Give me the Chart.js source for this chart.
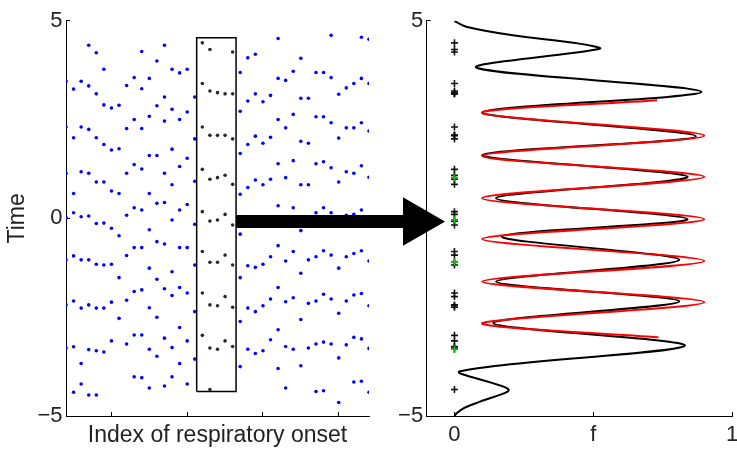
<!DOCTYPE html>
<html>
<head>
<meta charset="utf-8">
<script src="https://cdn.jsdelivr.net/npm/chart.js@4.4.1/dist/chart.umd.min.js"></script>
<style>
  html, body { margin: 0; padding: 0; background: #fff; }
  #wrap { position: relative; width: 737px; height: 449px; }
  #wrap canvas { position: absolute; left: 0; top: 0; }
</style>
</head>
<body>
<div id="wrap">
  <canvas id="onset-chart" width="737" height="449"></canvas>
  <canvas id="density-chart" width="737" height="449"></canvas>
</div>
<script>
// onset times for each respiratory index
// indexes 0..17 (before the window)
const onsetsBefore = [
  [3.47, 2.31, 1.14, 0.02, -1.05, -2.19, -3.28],
  [3.27, 2.04, 0.63, 0.14, -0.95, -2.09, -3.25, -4.40],
  [3.47, 2.31, 1.18, 0.04, -1.05, -2.27, -3.67, -4.19],
  [4.38, 3.35, 2.25, 1.14, 0.06, -1.05, -2.19, -3.32, -4.47],
  [4.19, 3.15, 2.04, 0.92, -0.13, -1.16, -2.27, -3.35, -4.47],
  [3.77, 2.87, 1.87, 0.92, -0.12, -1.18, -2.27, -3.38],
  [2.79, 1.73, 0.69, -0.25, -1.16, -2.12, -3.10],
  [2.86, 1.76, 0.63, -0.44, -1.50, -2.53],
  [3.36, 2.27, 1.14, 0.08, -0.94, -2.07, -3.18],
  [3.56, 2.50, 1.36, 0.27, -0.74, -1.85, -2.95, -4.01],
  [4.22, 3.28, 2.27, 1.25, 0.21, -0.74, -1.81, -2.95, -4.03],
  [3.54, 2.58, 1.59, 0.63, -0.29, -1.26, -2.26, -3.31, -4.29],
  [3.98, 2.85, 1.59, 0.38, -0.59, -1.54, -2.50, -3.49],
  [4.38, 3.07, 2.46, 1.14, 0.40, -0.65, -1.78, -3.03, -4.24],
  [3.77, 2.76, 1.75, 0.85, -0.04, -1.35, -1.95, -3.27, -4.01],
  [3.68, 2.50, 1.31, 0.21, -0.74, -1.75, -2.76, -3.67],
  [3.77, 2.69, 1.52, 0.35, -0.74, -1.89, -3.10, -4.19],
  [3.07, 2.01, 0.94, -0.15, -1.18, -2.36, -3.56]
];
// indexes 18..22 (inside the window)
const onsetsWindow = [
  [4.44, 3.41, 2.31, 1.24, 0.17, -0.84, -1.89, -2.96],
  [4.27, 3.22, 2.10, 0.99, -0.07, -1.11, -2.19, -3.28, -4.33],
  [3.18, 2.10, 1.03, -0.04, -1.11, -2.21, -3.31],
  [3.15, 2.10, 1.09, 0.10, -0.93, -1.98, -3.10],
  [4.21, 3.15, 2.01, 0.86, -0.17, -1.18, -2.25, -3.24]
];
// indexes 23..40 (after the window)
const onsetsAfter = [
  [3.69, 2.71, 1.64, 0.61, -0.40, -1.50, -2.61, -3.75],
  [4.06, 2.97, 1.87, 0.78, -1.20, -2.27, -3.31],
  [4.15, 3.15, 2.08, 0.97, -1.24, -2.36, -3.42],
  [2.95, 1.90, 0.85, -1.16, -2.21, -3.35],
  [3.11, 2.05, 0.99, -0.97, -2.04, -3.07],
  [4.55, 3.54, 2.50, 1.38, 0.32, -0.69, -1.75, -2.82, -3.80],
  [3.49, 2.29, 1.03, -1.08, -2.11, -3.24, -4.29],
  [3.72, 2.63, 1.46, 0.27, -0.84, -2.01, -3.31],
  [4.05, 3.04, 1.95, 0.85, -0.31, -1.39, -2.56, -3.73],
  [3.04, 1.90, 0.85, -1.05, -2.15, -3.28],
  [3.69, 2.57, 1.38, 0.14, -0.97, -2.09, -3.18, -4.38],
  [3.69, 2.57, 1.43, 0.27, -0.82, -1.92, -3.13, -4.36],
  [4.63, 3.56, 2.42, 1.28, 0.14, -0.93, -2.04, -3.18],
  [3.14, 2.03, 0.92, -1.26, -2.40, -3.53, -4.66],
  [3.30, 2.29, 1.18, 0.08, -0.97, -2.09, -3.20],
  [3.41, 2.29, 1.14, 0.10, -0.89, -1.94, -3.01, -4.14],
  [4.58, 3.54, 2.42, 1.33, 0.21, -0.82, -1.90, -3.05, -4.12],
  [4.53, 3.41, 2.21, 1.04, -1.08, -2.21, -3.29, -4.40]
];
const windowFirstIndex = 18;
const windowEdgesIndex = [17.25, 22.45];
const windowEdgesTime = [-4.38, 4.57];
const highlightedTimes = [1.03, -0.04, -1.11, -3.31];

// arrow: shaft in index units (left panel), head in f units (right panel)
const arrowShaftIndex = [22.45, 44.6];
const arrowHeadF = -0.135;
const arrowTime = -0.08;

const indexTicks = [6, 16, 26, 36];
const timeTicks = [-5, 0, 5];

// density of onset times (black) and fitted periodic curve (red)
const densityF = [0, 0.046, 0.21, 0.45, 0.523, 0.08, 0.89, 0.10, 0.87, 0.10, 0.84, 0.15, 0.84, 0.17,
  0.81, 0.15, 0.81, 0.14, 0.83, 0.02, 0.195, 0.094, 0.034, 0.01, 0];
const densityT = [4.99, 4.84, 4.63, 4.42, 4.29, 3.81, 3.20, 2.68, 2.08, 1.60, 1.05, 0.51, -0.02, -0.46,
  -1.05, -1.60, -2.10, -2.65, -3.22, -3.87, -4.33, -4.63, -4.80, -4.92, -5.0];
const fitF = [0.73, 0.10, 0.90, 0.10, 0.90, 0.10, 0.90, 0.10, 0.90, 0.10, 0.90, 0.10, 0.735];
const fitT = [2.99, 2.66, 2.09, 1.58, 1.05, 0.51, -0.02, -0.52, -1.08, -1.60, -2.12, -2.65, -3.01];
const fTicks = [0, 0.5, 1];
const fTickLabels = ['0', 'f', '1'];
const densityTimeTicks = [-5, 5];

const FONT = "'Liberation Sans', Arial, sans-serif";
const TEXT = '#222';
Chart.defaults.font.family = FONT;
Chart.defaults.color = TEXT;

function columnPoints(columns, firstIndex) {
  const pts = [];
  columns.forEach((times, i) => times.forEach(t => pts.push({ x: firstIndex + i, y: t })));
  return pts;
}

function pairs(xs, ys) {
  return xs.map((x, i) => ({ x, y: ys[i] }));
}

function signed(v) {
  return v < 0 ? '\u2212' + Math.abs(v) : String(v);
}

function fixedTicks(values) {
  return scale => { scale.ticks = values.map(v => ({ value: v })); };
}

// fixed height for the bottom axis, no extra side padding for its labels
function bottomAxisFit(scale) {
  scale.height = 33;
  scale.paddingLeft = 0;
  scale.paddingRight = 0;
}

const axisLine = { color: '#000', width: 1 };
const insideTicks = { drawOnChartArea: false, tickLength: -4, color: '#000', lineWidth: 1 };

// left panel: onset times by index, with window and arrow shaft
const [wx0, wx1] = windowEdgesIndex;
const [wt0, wt1] = windowEdgesTime;

new Chart(document.getElementById('onset-chart'), {
  type: 'scatter',
  data: {
    datasets: [
      {
        label: 'flecha',
        data: arrowShaftIndex.map(x => ({ x, y: arrowTime })),
        showLine: true,
        borderColor: '#000',
        borderWidth: 13,
        borderCapStyle: 'butt',
        pointRadius: 0,
        clip: false,
        order: 0
      },
      {
        label: 'ventana',
        data: [
          { x: wx0, y: wt0 }, { x: wx1, y: wt0 }, { x: wx1, y: wt1 },
          { x: wx0, y: wt1 }, { x: wx0, y: wt0 }
        ],
        showLine: true,
        borderColor: '#000',
        borderWidth: 1.5,
        pointRadius: 0,
        order: 1
      },
      {
        label: 'onsets en ventana',
        data: columnPoints(onsetsWindow, windowFirstIndex),
        pointRadius: 1.8,
        pointBorderWidth: 0,
        pointBackgroundColor: '#2a2a2a',
        order: 2
      },
      {
        label: 'onsets',
        data: columnPoints(onsetsBefore, 0).concat(
          columnPoints(onsetsAfter, windowFirstIndex + onsetsWindow.length)),
        pointRadius: 1.8,
        pointBorderWidth: 0,
        pointBackgroundColor: '#0000ff',
        order: 3
      }
    ]
  },
  options: {
    responsive: false,
    animation: false,
    events: [],
    layout: { autoPadding: false, padding: { left: 0, right: 368, top: 19, bottom: 0 } },
    plugins: { legend: { display: false }, tooltip: { enabled: false } },
    scales: {
      x: {
        type: 'linear',
        min: 0,
        max: 40,
        afterBuildTicks: fixedTicks(indexTicks),
        afterFit: bottomAxisFit,
        grid: insideTicks,
        border: axisLine,
        ticks: { display: false },
        title: {
          display: true,
          text: 'Index of respiratory onset',
          font: { size: 23 },
          color: TEXT,
          padding: 0
        }
      },
      y: {
        type: 'linear',
        min: -5,
        max: 5,
        afterBuildTicks: fixedTicks(timeTicks),
        afterFit: s => { s.width = 66; },
        grid: insideTicks,
        border: axisLine,
        ticks: { padding: 7.5, font: { size: 22 }, color: TEXT, callback: v => signed(v) },
        title: {
          display: true,
          text: 'Time',
          font: { size: 23 },
          color: TEXT,
          padding: { top: 4, bottom: 0 }
        }
      }
    }
  }
});

// right panel: density vs time, with the arrow head
new Chart(document.getElementById('density-chart'), {
  type: 'scatter',
  data: {
    datasets: [
      {
        label: 'punta',
        data: [{ x: arrowHeadF, y: arrowTime }],
        pointStyle: 'triangle',
        pointRotation: 90,
        pointRadius: 26,
        pointBackgroundColor: '#000',
        pointBorderColor: '#000',
        pointBorderWidth: 2,
        clip: false,
        order: -1
      },
      {
        label: 'ajuste',
        data: pairs(fitF, fitT),
        showLine: true,
        borderColor: '#ff0000',
        borderWidth: 2,
        tension: 0.3,
        pointRadius: 0,
        order: 0
      },
      {
        label: 'densidad',
        data: pairs(densityF, densityT),
        showLine: true,
        borderColor: '#000',
        borderWidth: 2,
        tension: 0.3,
        pointRadius: 0,
        order: 1
      },
      {
        label: 'ventana resaltada',
        data: highlightedTimes.map(t => ({ x: 0, y: t })),
        pointStyle: 'cross',
        pointRadius: 3.5,
        pointBorderWidth: 1.6,
        pointBorderColor: '#1fbf1f',
        order: 2
      },
      {
        label: 'onsets en ventana',
        data: onsetsWindow.flat().map(t => ({ x: 0, y: t })),
        pointStyle: 'cross',
        pointRadius: 3.5,
        pointBorderWidth: 1.6,
        pointBorderColor: '#111',
        order: 3
      }
    ]
  },
  options: {
    responsive: false,
    animation: false,
    events: [],
    layout: { autoPadding: false, padding: { left: 380, right: 5, top: 19, bottom: 0 } },
    plugins: { legend: { display: false }, tooltip: { enabled: false } },
    scales: {
      x: {
        type: 'linear',
        min: -0.1,
        max: 1,
        afterBuildTicks: fixedTicks(fTicks),
        afterFit: bottomAxisFit,
        grid: insideTicks,
        border: axisLine,
        ticks: {
          padding: 10,
          font: { size: 22 },
          color: TEXT,
          maxRotation: 0,
          callback: v => fTickLabels[fTicks.indexOf(v)]
        }
      },
      y: {
        type: 'linear',
        min: -5,
        max: 5,
        afterBuildTicks: fixedTicks(densityTimeTicks),
        afterFit: s => { s.width = 46.7; },
        grid: insideTicks,
        border: axisLine,
        ticks: { padding: 7.5, font: { size: 22 }, color: TEXT, callback: v => signed(v) }
      }
    }
  }
});
</script>
</body>
</html>
